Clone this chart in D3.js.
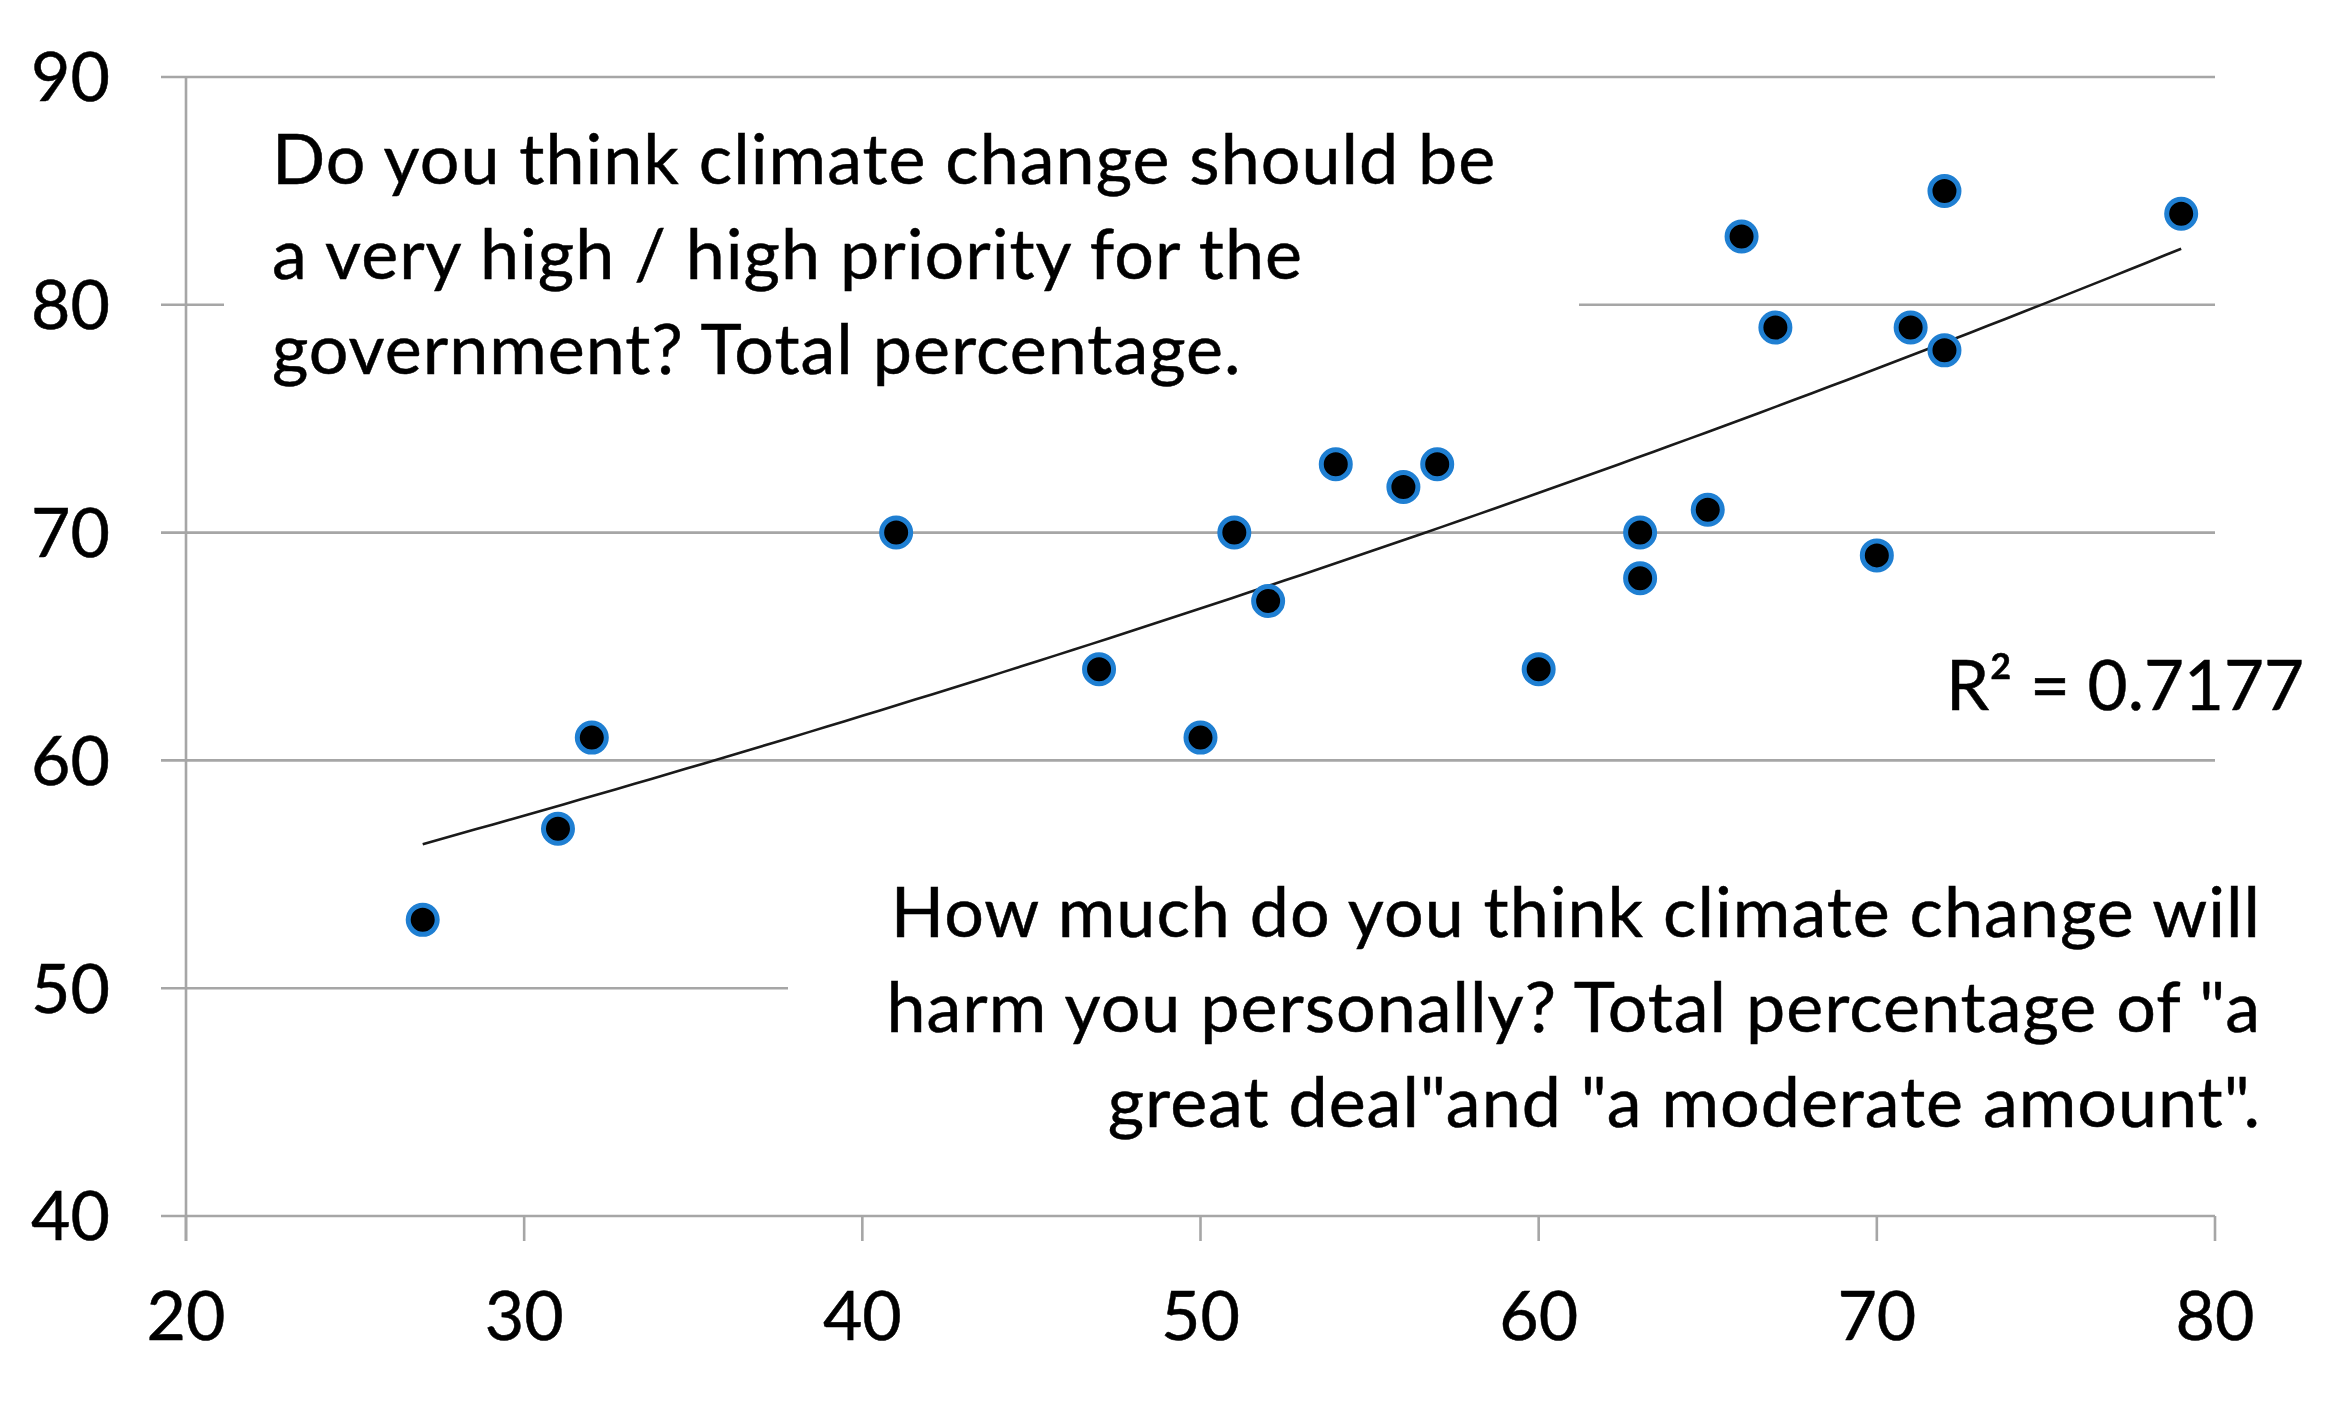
<!DOCTYPE html>
<html>
<head>
<meta charset="utf-8">
<script src="https://cdn.jsdelivr.net/npm/d3@7"></script>
<style>
  body { margin: 0; background: #fff; }
  text { font-family: Lato, "Open Sans", sans-serif; fill: #000; stroke: #000; stroke-width: 0.5px; }
</style>
</head>
<body>
<div id="wrapper"></div>
<script>
// data
const harmPct = [27, 31, 32, 41, 47, 50, 51, 52, 54, 56, 57, 60, 63, 63, 65, 66, 67, 70, 71, 72, 72, 79];
const priorityPct = [53, 57, 61, 70, 64, 61, 70, 67, 73, 72, 73, 64, 70, 68, 71, 83, 79, 69, 79, 85, 78, 84];
const xTicks = [20, 30, 40, 50, 60, 70, 80];
const yTicks = [40, 50, 60, 70, 80, 90];
const priorityNote = [
  "Do you think climate change should be",
  "a very high / high priority for the",
  "government? Total percentage."
];
const harmNote = [
  "How much do you think climate change will",
  "harm you personally? Total percentage of \"a",
  "great deal\"and \"a moderate amount\"."
];
const rSquaredLabel = "R\u00B2 = 0.7177";

function drawChart() {
  const dimensions = {
    width: 2328,
    height: 1401,
    margin: { top: 77, right: 113, bottom: 185, left: 186 }
  };
  dimensions.boundedWidth = dimensions.width - dimensions.margin.left - dimensions.margin.right;
  dimensions.boundedHeight = dimensions.height - dimensions.margin.top - dimensions.margin.bottom;

  const points = harmPct.map((x, i) => ({ x, y: priorityPct[i] }));

  const svg = d3.select("#wrapper").append("svg")
    .attr("width", dimensions.width)
    .attr("height", dimensions.height);

  const bounds = svg.append("g")
    .attr("transform", `translate(${dimensions.margin.left},${dimensions.margin.top})`);

  // SCALES
  const xScale = d3.scaleLinear().domain([20, 80]).range([0, dimensions.boundedWidth]);
  const yScale = d3.scaleLinear().domain([40, 90]).range([dimensions.boundedHeight, 0]);

  const gridColor = "#a6a6a6";
  const tickLen = 25;

  // gridlines (with the left tick stub)
  bounds.selectAll(".grid")
    .data(yTicks)
    .enter().append("line")
    .attr("x1", -tickLen)
    .attr("x2", dimensions.boundedWidth)
    .attr("y1", d => yScale(d))
    .attr("y2", d => yScale(d))
    .attr("stroke", gridColor)
    .attr("stroke-width", 2.6);

  // y axis line
  bounds.append("line")
    .attr("x1", 0).attr("x2", 0)
    .attr("y1", yScale(90))
    .attr("y2", dimensions.boundedHeight + tickLen)
    .attr("stroke", gridColor)
    .attr("stroke-width", 2.6);

  // x ticks
  bounds.selectAll(".xtick")
    .data(xTicks)
    .enter().append("line")
    .attr("x1", d => xScale(d))
    .attr("x2", d => xScale(d))
    .attr("y1", dimensions.boundedHeight)
    .attr("y2", dimensions.boundedHeight + tickLen)
    .attr("stroke", gridColor)
    .attr("stroke-width", 2.6);

  // text boxes hide part of the gridlines
  bounds.append("rect")
    .attr("x", 38).attr("y", 30)
    .attr("width", 1355).attr("height", 330)
    .attr("fill", "#fff");
  bounds.append("rect")
    .attr("x", 602).attr("y", 800)
    .attr("width", 1530).attr("height", 300)
    .attr("fill", "#fff");

  // tick labels
  bounds.selectAll(".ylabel")
    .data(yTicks)
    .enter().append("text")
    .attr("x", -76)
    .attr("y", d => yScale(d))
    .attr("dy", "0.36em")
    .attr("text-anchor", "end")
    .style("font-size", "68px")
    .text(d => d);

  bounds.selectAll(".xlabel")
    .data(xTicks)
    .enter().append("text")
    .attr("x", d => xScale(d))
    .attr("y", dimensions.boundedHeight + 124)
    .attr("text-anchor", "middle")
    .style("font-size", "68px")
    .text(d => d);

  // exponential trendline, fitted like a spreadsheet does (ln y on x)
  const mx = d3.mean(points, d => d.x);
  const mly = d3.mean(points, d => Math.log(d.y));
  const b = d3.sum(points, d => (d.x - mx) * (Math.log(d.y) - mly)) /
    d3.sum(points, d => (d.x - mx) ** 2);
  const a = Math.exp(mly - b * mx);
  const [xMin, xMax] = d3.extent(harmPct);
  const trend = d3.range(0, 101).map(i => {
    const x = xMin + (xMax - xMin) * i / 100;
    return { x, y: a * Math.exp(b * x) };
  });
  bounds.append("path")
    .attr("d", d3.line().x(d => xScale(d.x)).y(d => yScale(d.y))(trend))
    .attr("fill", "none")
    .attr("stroke", "#1a1a1a")
    .attr("stroke-width", 2.6);

  // points
  bounds.selectAll(".dot")
    .data(points)
    .enter().append("circle")
    .attr("cx", d => xScale(d.x))
    .attr("cy", d => yScale(d.y))
    .attr("r", 14.5)
    .attr("fill", "#000")
    .attr("stroke", "#1f7fd2")
    .attr("stroke-width", 5);

  // annotations
  const noteSize = "70px";
  const lineGap = 95;
  bounds.append("text")
    .attr("x", 86)
    .attr("y", 107)
    .style("font-size", noteSize)
    .style("letter-spacing", "1px")
    .selectAll("tspan")
    .data(priorityNote)
    .enter().append("tspan")
    .attr("x", 86)
    .attr("dy", (d, i) => i === 0 ? 0 : lineGap)
    .text(d => d);

  bounds.append("text")
    .attr("x", 2075)
    .attr("y", 860)
    .attr("text-anchor", "end")
    .style("font-size", noteSize)
    .style("letter-spacing", "1px")
    .selectAll("tspan")
    .data(harmNote)
    .enter().append("tspan")
    .attr("x", 2075)
    .attr("dy", (d, i) => i === 0 ? 0 : lineGap)
    .text(d => d);

  bounds.append("text")
    .attr("x", 1760)
    .attr("y", 633)
    .style("font-size", "69px")
    .text(rSquaredLabel);
}
drawChart();
</script>
</body>
</html>
